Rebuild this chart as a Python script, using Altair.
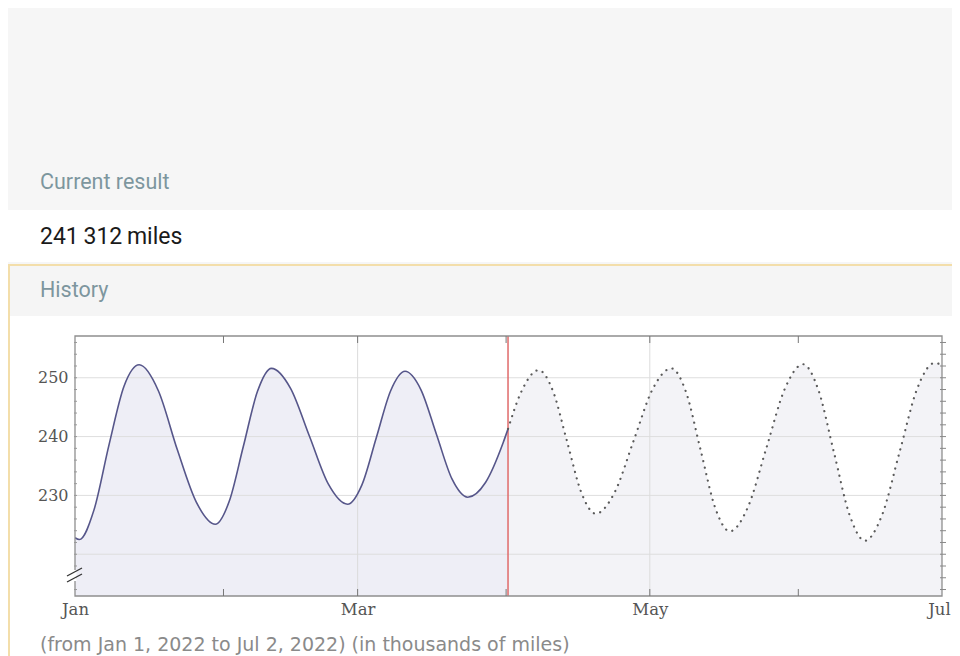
import altair as alt
import pandas as pd

# ---------------- data (distance in thousands of miles) ----------------
# days after Jan 1, 2022 00:00 UTC
hist_days = [0.0, 0.9, 3.95, 7.1, 10.25, 13.4, 17.4, 21.35, 25.3, 29.3, 32.2, 35.15, 38.1, 41.0,
             45.0, 48.95, 52.9, 56.9, 59.9, 62.9, 65.9, 68.9, 72.2, 75.45, 78.7, 82.0, 85.7, 89.4, 90.4]
hist_vals = [222.8, 222.5, 227.5, 238.6, 248.6, 252.2, 247.8, 237.8, 228.9, 225.1, 229.0, 238.35, 247.7, 251.6,
             248.2, 240.05, 231.9, 228.5, 231.8, 239.8, 247.8, 251.1, 248.0, 240.4, 232.8, 229.7, 232.2, 239.0, 241.3]
fc_days = [90.4, 93.1, 96.8, 99.8, 102.75, 105.7, 108.7, 112.65, 116.6, 120.55, 124.5, 127.55, 130.6, 133.65,
           136.7, 140.5, 144.35, 148.2, 152.0, 155.2, 158.45, 161.7, 164.9, 168.5, 172.15, 175.8, 179.4, 181.0]
fc_vals = [241.3, 247.5, 251.3, 247.7, 239.1, 230.5, 226.9, 230.5, 239.25, 248.0, 251.6, 247.6, 237.75, 227.9,
           223.9, 228.05, 238.1, 248.15, 252.3, 247.9, 237.3, 226.7, 222.3, 226.7, 237.4, 248.1, 252.5, 252.2]
current_day = 90.4
current_text = "241\u2009312\u2009miles"

label_months = [1, 3, 5, 7]                 # Jan, Mar, May, Jul
month_ticks = ["2022-02-01", "2022-03-01", "2022-04-01", "2022-05-01", "2022-06-01"]
vgrid_dates = ["2022-03-01", "2022-05-01"]
grid_vals = [220, 230, 240, 250]
label_vals = [230, 240, 250]
minor_vals = [214, 216, 218, 220, 222, 224, 226, 228, 230, 232, 234, 236, 238, 240,
              242, 244, 246, 248, 250, 252, 254, 256]
footer = "(from Jan 1, 2022 to Jul 2, 2022)  (in thousands of miles)"

# ---------------- layout ----------------
W, H = 867, 260
start = pd.Timestamp("2022-01-01", tz="UTC")


def iso_day(d):
    return (start + pd.to_timedelta(d, unit="D")).strftime("%Y-%m-%dT%H:%M:%SZ")


def iso_date(s):
    return s + "T00:00:00Z"


df = pd.DataFrame({
    "date": [iso_day(d) for d in hist_days] + [iso_day(d) for d in fc_days],
    "value": hist_vals + fc_vals,
    "kind": ["history"] * len(hist_days) + ["forecast"] * len(fc_days),
})
grid_df = pd.DataFrame({"value": grid_vals})
minor_df = pd.DataFrame({"value": minor_vals})
vgrid_df = pd.DataFrame({"date": [iso_date(s) for s in vgrid_dates]})
mt_df = pd.DataFrame({"date": [iso_date(s) for s in month_ticks]})
cur_df = pd.DataFrame({"date": [iso_day(current_day)]})
one = alt.Data(values=[{"a": 1}])

x_scale = alt.Scale(type="utc", domain=[alt.DateTime(year=2022, month=1, date=1, utc=True),
                                        alt.DateTime(year=2022, month=7, date=1, utc=True)])
y_scale = alt.Scale(domain=[212.9, 257.1], zero=False, nice=False)

x_axis = alt.Axis(values=[alt.DateTime(year=2022, month=m, date=1, utc=True) for m in label_months],
                  labelExpr="utcFormat(datum.value, '%b')", grid=False, ticks=False, domain=False,
                  labelFlush=False, labelOverlap=False, labelBound=False, labelPadding=5,
                  labelOffset={"condition": {"test": "utcFormat(datum.value, '%b') == 'Jul'", "value": -3},
                               "value": 0},
                  labelFont="DejaVu Serif", labelFontSize=16.5, labelColor="#555555", title=None, zindex=2)
y_axis = alt.Axis(values=label_vals, grid=False, ticks=False, domain=False, labelPadding=7,
                  labelFont="DejaVu Serif", labelFontSize=16, labelColor="#555555", title=None, zindex=2)

X = alt.X("date:T", scale=x_scale, axis=x_axis)
Y = alt.Y("value:Q", scale=y_scale, axis=y_axis)

layers = []

# page decorations
layers.append(alt.Chart(one).mark_rect(color="white").encode(
    x=alt.value(-67), x2=alt.value(W + 40), y=alt.value(-126), y2=alt.value(-74)))
layers.append(alt.Chart(one).mark_rect(fill="white", stroke="#f3deaa", strokeWidth=2).encode(
    x=alt.value(-66), x2=alt.value(W + 40), y=alt.value(-71), y2=alt.value(H + 90)))
layers.append(alt.Chart(one).mark_rect(color="#f5f5f5").encode(
    x=alt.value(-65), x2=alt.value(W + 40), y=alt.value(-70), y2=alt.value(-20)))

txt = dict(align="left", baseline="middle", font="Roboto")
layers.append(alt.Chart(one).mark_text(text="Current result", fontSize=21.5, color="#7d969e", **txt).encode(
    x=alt.value(-35), y=alt.value(-153)))
layers.append(alt.Chart(one).mark_text(text=current_text, fontSize=23, color="#1a1a1a", **txt).encode(
    x=alt.value(-35), y=alt.value(-99)))
layers.append(alt.Chart(one).mark_text(text="History", fontSize=21.5, color="#7d969e", **txt).encode(
    x=alt.value(-35), y=alt.value(-45)))
layers.append(alt.Chart(one).mark_text(text=footer, fontSize=19, color="#8a8a8a", align="left",
                                       baseline="middle", font="DejaVu Sans").encode(
    x=alt.value(-35), y=alt.value(309)))

# filled areas
layers.append(alt.Chart(df).transform_filter(alt.datum.kind == "history").mark_area(
    color="#eeeef6", interpolate="monotone", clip=True).encode(x=X, y=Y, y2=alt.value(H)))
layers.append(alt.Chart(df).transform_filter(alt.datum.kind == "forecast").mark_area(
    color="#f3f3f7", interpolate="monotone", clip=True).encode(x=X, y=Y, y2=alt.value(H)))

# grid lines
layers.append(alt.Chart(grid_df).mark_rule(color="#dedede", strokeWidth=1).encode(
    y=Y, x=alt.value(0), x2=alt.value(W)))
layers.append(alt.Chart(vgrid_df).mark_rule(color="#dcdcdc", strokeWidth=1).encode(
    x=X, y=alt.value(0), y2=alt.value(H)))

# current date marker
layers.append(alt.Chart(cur_df).mark_rule(color="#e06a6a", strokeWidth=1.5).encode(
    x=X, y=alt.value(0), y2=alt.value(H)))

# curves
layers.append(alt.Chart(df).transform_filter(alt.datum.kind == "history").mark_line(
    color="#56568a", strokeWidth=1.6, interpolate="monotone", clip=True).encode(x=X, y=Y))
layers.append(alt.Chart(df).transform_filter(alt.datum.kind == "forecast").mark_line(
    color="#5a5a5a", strokeWidth=2.2, strokeDash=[0.1, 6.5], strokeCap="round",
    interpolate="monotone", clip=True).encode(x=X, y=Y))

# frame
layers.append(alt.Chart(one).mark_rect(fillOpacity=0, stroke="#8f8f8f", strokeWidth=1.3).encode(
    x=alt.value(0), x2=alt.value(W), y=alt.value(0), y2=alt.value(H)))

# month ticks top/bottom
layers.append(alt.Chart(mt_df).mark_rule(color="#777", strokeWidth=1).encode(
    x=X, y=alt.value(0), y2=alt.value(7)))
layers.append(alt.Chart(mt_df).mark_rule(color="#777", strokeWidth=1).encode(
    x=X, y=alt.value(H - 7), y2=alt.value(H)))
# minor y ticks left/right
layers.append(alt.Chart(minor_df).mark_rule(color="#999", strokeWidth=1).encode(
    y=Y, x=alt.value(-1), x2=alt.value(2)))
layers.append(alt.Chart(minor_df).mark_rule(color="#888", strokeWidth=1).encode(
    y=Y, x=alt.value(W - 2), x2=alt.value(W + 4)))

# axis break symbol
layers.append(alt.Chart(one).mark_rect(color="white").encode(
    x=alt.value(-1.5), x2=alt.value(1.5), y=alt.value(234), y2=alt.value(245)))
layers.append(alt.Chart(one).mark_rule(color="#333", strokeWidth=1.4).encode(
    x=alt.value(-8), x2=alt.value(7), y=alt.value(240), y2=alt.value(232)))
layers.append(alt.Chart(one).mark_rule(color="#333", strokeWidth=1.4).encode(
    x=alt.value(-8), x2=alt.value(7), y=alt.value(246), y2=alt.value(238)))

chart = alt.layer(*layers).properties(
    width=W, height=H,
    padding={"left": 67, "top": 328, "right": 10, "bottom": 60},
    autosize=alt.AutoSizeParams(type="none"),
    background="#f6f6f6",
).configure_view(strokeWidth=0)

chart.save("out.html", embed_options={"renderer": "svg", "actions": False})
